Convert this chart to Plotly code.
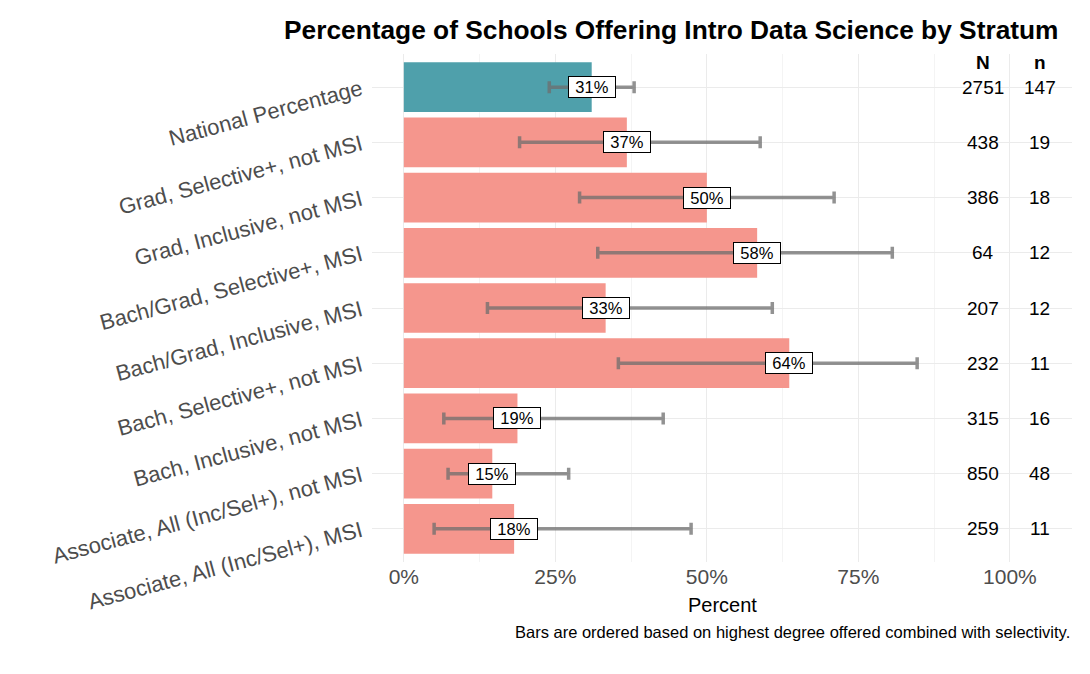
import plotly.graph_objects as go

categories = [
    "National Percentage",
    "Grad, Selective+, not MSI",
    "Grad, Inclusive, not MSI",
    "Bach/Grad, Selective+, MSI",
    "Bach/Grad, Inclusive, MSI",
    "Bach, Selective+, not MSI",
    "Bach, Inclusive, not MSI",
    "Associate, All (Inc/Sel+), not MSI",
    "Associate, All (Inc/Sel+), MSI",
]
pct = [31.0, 36.8, 50.0, 58.3, 33.3, 63.6, 18.75, 14.6, 18.2]
ci_low = [24.0, 19.1, 29.0, 32.0, 13.8, 35.4, 6.6, 7.3, 5.0]
ci_high = [38.0, 58.8, 71.0, 80.6, 60.8, 84.7, 42.8, 27.2, 47.4]
N_pop = [2751, 438, 386, 64, 207, 232, 315, 850, 259]
n_sample = [147, 19, 18, 12, 12, 11, 16, 48, 11]
x_ticks = [0, 25, 50, 75, 100]
x_ticktext = ["0%", "25%", "50%", "75%", "100%"]

FONT = "Liberation Sans, Arial, Helvetica, sans-serif"
TEAL = "#4FA0AB"
SALMON = "#F5968D"

ypos = list(range(len(categories)))
colors = [TEAL] + [SALMON] * (len(categories) - 1)

fig = go.Figure()
fig.add_trace(go.Bar(
    x=pct, y=ypos, orientation="h", width=0.9,
    marker=dict(color=colors, line=dict(width=0)),
    error_x=dict(
        type="data", symmetric=False,
        array=[h - p for h, p in zip(ci_high, pct)],
        arrayminus=[p - l for p, l in zip(pct, ci_low)],
        color="rgba(110,110,110,0.75)", thickness=3.5, width=6,
    ),
    showlegend=False, hoverinfo="skip",
))

annotations = []
for i, p in enumerate(pct):
    annotations.append(dict(
        x=p, y=i, xref="x", yref="y", text=f"{round(p):d}%", showarrow=False,
        font=dict(family=FONT, size=16.5, color="black"),
        bgcolor="white", bordercolor="black", borderwidth=1, borderpad=1,
        width=44, height=18, xanchor="center", yanchor="middle",
    ))
    annotations.append(dict(
        x=95.6, y=i, xref="x", yref="y", text=str(N_pop[i]), showarrow=False,
        font=dict(family=FONT, size=19, color="black"), xanchor="center", yanchor="middle",
    ))
    annotations.append(dict(
        x=104.9, y=i, xref="x", yref="y", text=str(n_sample[i]), showarrow=False,
        font=dict(family=FONT, size=19, color="black"), xanchor="center", yanchor="middle",
    ))
annotations.append(dict(x=95.6, y=-0.45, xref="x", yref="y", text="<b>N</b>", showarrow=False,
                        font=dict(family=FONT, size=19, color="black"), xanchor="center", yanchor="middle"))
annotations.append(dict(x=104.9, y=-0.45, xref="x", yref="y", text="<b>n</b>", showarrow=False,
                        font=dict(family=FONT, size=19, color="black"), xanchor="center", yanchor="middle"))
annotations.append(dict(x=0.5, y=-0.085, xref="paper", yref="paper", text="Percent", showarrow=False,
                        font=dict(family=FONT, size=20, color="black"), xanchor="center", yanchor="middle"))
annotations.append(dict(x=1.0, y=-0.138, xref="paper", yref="paper",
                        text="Bars are ordered based on highest degree offered combined with selectivity.",
                        showarrow=False, font=dict(family=FONT, size=16.5, color="black"),
                        xanchor="right", yanchor="middle"))

fig.update_layout(
    width=1090, height=674,
    margin=dict(l=372, r=18, t=54, b=112),
    paper_bgcolor="white", plot_bgcolor="white",
    title=dict(text="<b>Percentage of Schools Offering Intro Data Science by Stratum</b>",
               font=dict(family=FONT, size=26.3, color="black"),
               x=284 / 1090, xanchor="left", xref="container",
               y=1 - 30 / 674, yanchor="middle", yref="container"),
    xaxis=dict(range=[-5.25, 110.25], tickvals=x_ticks, ticktext=x_ticktext,
               showgrid=True, gridcolor="#EBEBEB", gridwidth=1.4, zeroline=False,
               showline=False, ticks="",
               tickfont=dict(family=FONT, size=21, color="#4D4D4D"),
               minor=dict(tick0=0, dtick=12.5, showgrid=True, gridcolor="#F4F4F4", gridwidth=1)),
    yaxis=dict(range=[8.6, -0.6], tickvals=ypos, ticktext=categories, tickangle=-15,
               showgrid=True, gridcolor="#EBEBEB", gridwidth=1.4, zeroline=False,
               showline=False, ticks="", ticklabelstandoff=10,
               tickfont=dict(family=FONT, size=22, color="#4D4D4D")),
    annotations=annotations,
    bargap=0.1,
)

fig.write_html("out.html")
